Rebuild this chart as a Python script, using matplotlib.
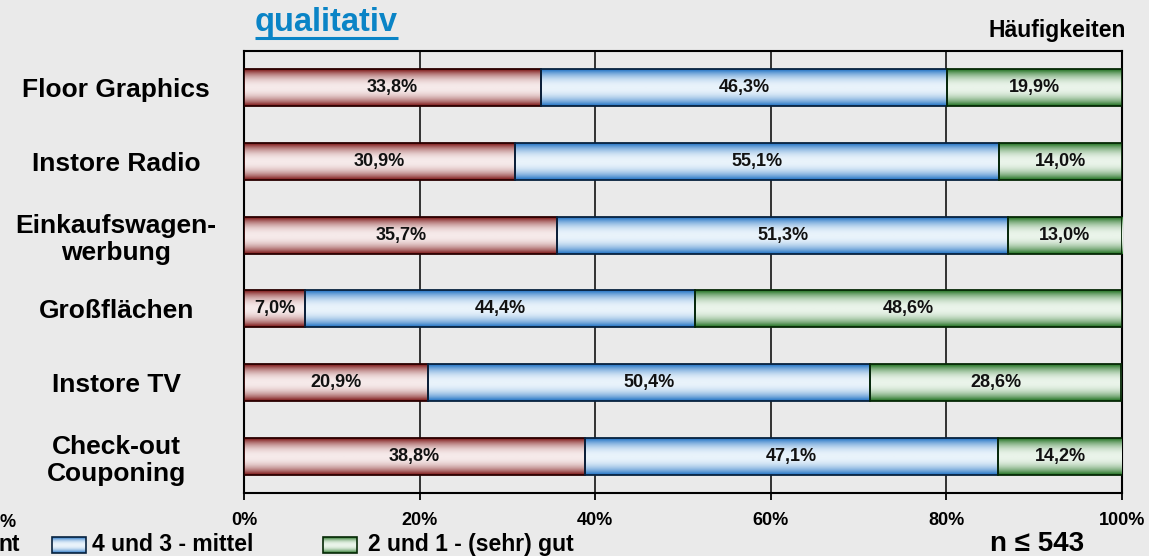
import numpy as np
import matplotlib.pyplot as plt
from matplotlib.colors import LinearSegmentedColormap

plt.rcParams['font.family'] = ['Liberation Sans', 'DejaVu Sans']
plt.rcParams['font.weight'] = 'bold'

# data (top to bottom)
categories = ['Floor Graphics', 'Instore Radio', 'Einkaufswagen-\nwerbung',
              'Großflächen', 'Instore TV', 'Check-out\nCouponing']
schlecht = [33.8, 30.9, 35.7, 7.0, 20.9, 38.8]
mittel = [46.3, 55.1, 51.3, 44.4, 50.4, 47.1]
gut = [19.9, 14.0, 13.0, 48.6, 28.6, 14.2]
tick_vals = [0, 20, 40, 60, 80, 100]
tick_labels = ['0%', '20%', '40%', '60%', '80%', '100%']
legend_names = ['4 und 3 - mittel', '2 und 1 - (sehr) gut']

bg = '#eaeaea'
# gradient colours: (light middle, dark edge), outline colour
styles = [
    ('#f6eaea', '#7a1212', '#2a0000'),
    ('#e9f3fb', '#1c6fc2', '#08223e'),
    ('#eaf4ea', '#1d6e1d', '#062806'),
]

# vertical gradient: dark at top/bottom edge, light in the middle
t = np.linspace(0, 1, 80)
grad = (np.abs(2 * t - 1) ** 2.2)[:, None]

fig = plt.figure(figsize=(11.49, 5.56), dpi=100, facecolor=bg)
W, H = 1149, 556
ax = fig.add_axes([244 / W, 1 - 493 / H, (1122 - 244) / W, (493 - 51) / H])
ax.set_facecolor(bg)

cmaps = [LinearSegmentedColormap.from_list('c%d' % i, [s[0], s[1]])
         for i, s in enumerate(styles)]

y = np.arange(len(categories))
left = np.zeros(len(categories))
for vals, cmap, st in zip([schlecht, mittel, gut], cmaps, styles):
    vals = np.array(vals)
    bars = ax.barh(y, vals, left=left, height=0.5, color='none',
                   edgecolor=st[2], linewidth=1.3, zorder=4)
    for b, v in zip(bars, vals):
        x0, y0, w, h = b.get_x(), b.get_y(), b.get_width(), b.get_height()
        ax.imshow(grad, cmap=cmap, aspect='auto', interpolation='bilinear',
                  extent=(x0, x0 + w, y0 + h, y0), zorder=3, vmin=0, vmax=1)
        ax.text(x0 + w / 2, y0 + h / 2, f'{v:.1f}%'.replace('.', ','),
                ha='center', va='center', fontsize=13, fontweight='bold',
                color='#111111', zorder=5)
    left += vals

ax.set_xlim(0, 100)
ax.set_ylim(len(categories) - 0.5, -0.5)
ax.set_aspect('auto')

ax.set_xticks(tick_vals)
ax.set_xticklabels(tick_labels, fontsize=13, fontweight='bold')
ax.tick_params(axis='x', direction='out', length=5, width=1.3, pad=9)
ax.set_yticks(y)
ax.set_yticklabels(categories, fontsize=19, fontweight='bold', ha='center')
ax.tick_params(axis='y', length=0, pad=92)

ax.xaxis.grid(True, color='black', linewidth=1.1)
ax.set_axisbelow(True)
for sp in ax.spines.values():
    sp.set_linewidth(1.5)
    sp.set_color('black')

# overlay in pixel coordinates for free texts and legend
ov = fig.add_axes([0, 0, 1, 1], zorder=10)
ov.axis('off')

title = ov.text(326, 31, 'qualitativ', ha='center', va='baseline',
                fontsize=23.5, fontweight='bold', color='#0a84c6')
ov.text(1126, 37, 'Häufigkeiten', ha='right', va='baseline',
        fontsize=16.5, fontweight='bold')
ov.text(1037, 551, 'n ≤ 543', ha='center', va='baseline',
        fontsize=20, fontweight='bold')

# cut-off pieces from the neighbouring chart
ov.text(-1, 527, '%', ha='left', va='baseline', fontsize=13, fontweight='bold')
ov.text(-2, 551, 'nt', ha='left', va='baseline', fontsize=16.5, fontweight='bold')

# legend entries
for (px, tx), name, cmap, st in zip([(52, 92), (323, 368)], legend_names,
                                     cmaps[1:], styles[1:]):
    ov.imshow(grad, cmap=cmap, aspect='auto', interpolation='bilinear',
              extent=(px, px + 34, 553, 537), vmin=0, vmax=1)
    ov.add_patch(plt.Rectangle((px, 537), 34, 16, fill=False,
                               edgecolor=st[2], linewidth=1.2))
    ov.text(tx, 551, name, ha='left', va='baseline', fontsize=16.5,
            fontweight='bold')
ov.set_xlim(0, W)
ov.set_ylim(H, 0)

# underline the title
fig.canvas.draw()
bb = title.get_window_extent()
inv = ov.transData.inverted()
(xa, _), (xb, _) = inv.transform([(bb.x0, bb.y0), (bb.x1, bb.y0)])
ov.plot([xa, xb], [38, 38], color='#0a84c6', linewidth=2.2,
        solid_capstyle='butt')

fig.savefig('out.png', dpi=100, facecolor=fig.get_facecolor())
